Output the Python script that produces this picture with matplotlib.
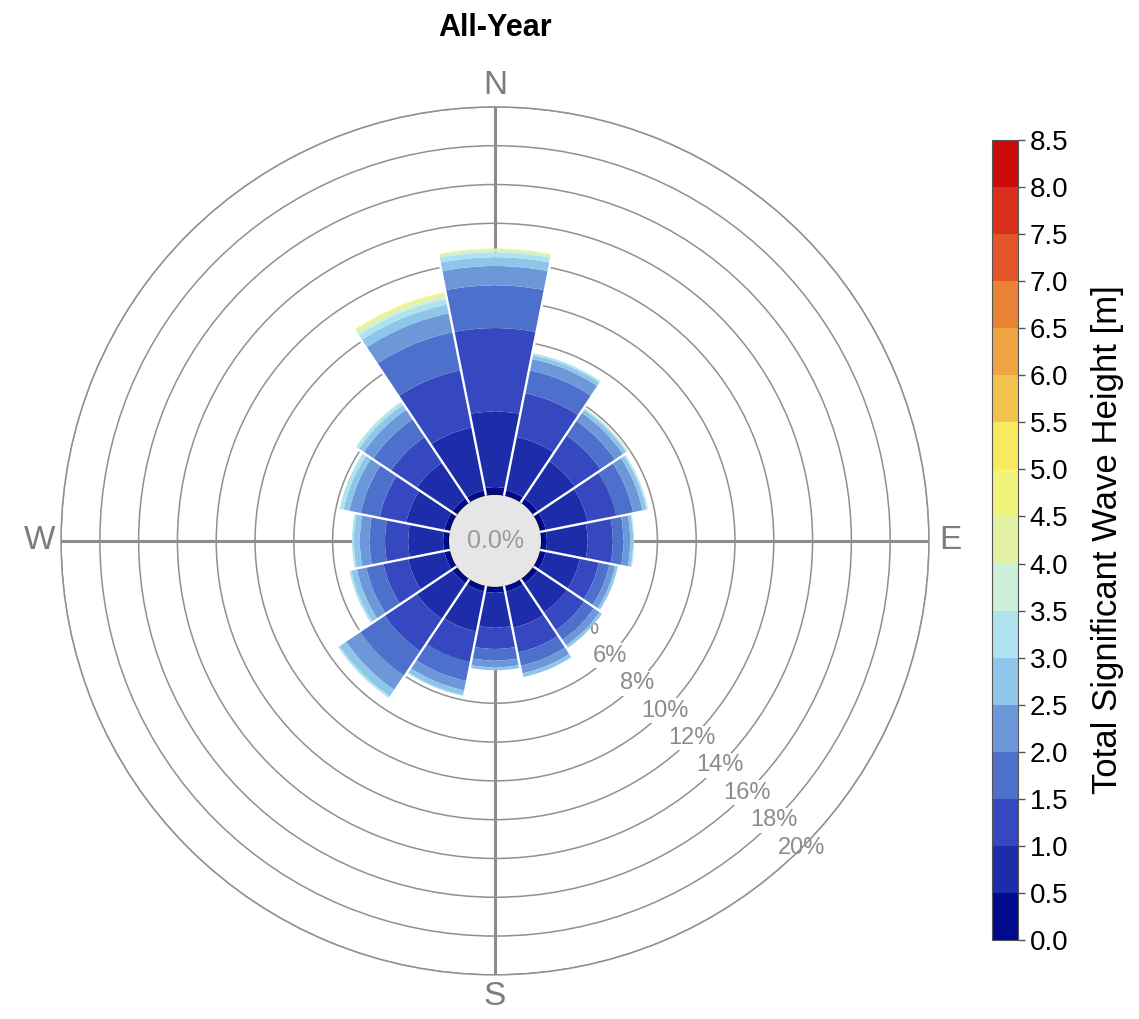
import numpy as np
import matplotlib
matplotlib.use('Agg')
import matplotlib.pyplot as plt
from matplotlib.colors import ListedColormap, BoundaryNorm
from matplotlib.cm import ScalarMappable
from matplotlib.patches import Circle

plt.rcParams['font.family'] = ['Liberation Sans', 'DejaVu Sans']

# 16 direction sectors, clockwise from north
directions = ['N', 'NNE', 'NE', 'ENE', 'E', 'ESE', 'SE', 'SSE',
              'S', 'SSW', 'SW', 'WSW', 'W', 'WNW', 'NW', 'NNW']
dir_deg = [0, 22.5, 45, 67.5, 90, 112.5, 135, 157.5,
           180, 202.5, 225, 247.5, 270, 292.5, 315, 337.5]

# wave height bin edges [m]
height_edges = [0.0, 0.5, 1.0, 1.5, 2.0, 2.5, 3.0, 3.5, 4.0, 4.5, 5.0,
                5.5, 6.0, 6.5, 7.0, 7.5, 8.0, 8.5]
bin_colors = ['#020a8c', '#1d2ca8', '#3648bf', '#4d70cd', '#6c98d9', '#8ec6ea',
              '#ade2ee', '#cdeed8', '#e3f2a2', '#f0f47a', '#f7ea5e', '#f3c24e',
              '#eea442', '#ea8236', '#e2562a', '#d9301e', '#cc0a0a']

# frequency [%] per height bin (0-0.5, 0.5-1.0, ...), bins not listed are 0
freq_N   = [0.4, 3.9, 4.3, 2.2, 1.0, 0.45, 0.25, 0.12, 0.06, 0.02]
freq_NNE = [0.3, 2.8, 2.3, 1.2, 0.6, 0.2, 0.1]
freq_NE  = [0.3, 2.3, 1.6, 0.9, 0.5, 0.2, 0.07, 0.03]
freq_ENE = [0.3, 2.2, 1.5, 0.9, 0.5, 0.2, 0.07, 0.03]
freq_E   = [0.3, 2.1, 1.3, 0.55, 0.35, 0.15, 0.05]
freq_ESE = [0.3, 1.8, 1.0, 0.55, 0.3, 0.15]
freq_SE  = [0.3, 1.8, 1.1, 0.6, 0.35, 0.15]
freq_SSE = [0.3, 1.9, 1.3, 0.7, 0.4, 0.2]
freq_S   = [0.3, 1.8, 1.1, 0.6, 0.35, 0.15]
freq_SSW = [0.3, 2.1, 1.6, 1.0, 0.5, 0.25, 0.05]
freq_SW  = [0.3, 2.2, 2.0, 1.5, 0.9, 0.4, 0.1]
freq_WSW = [0.3, 1.9, 1.3, 0.9, 0.5, 0.3, 0.1]
freq_W   = [0.3, 1.8, 1.2, 0.8, 0.5, 0.3, 0.1]
freq_WNW = [0.3, 2.0, 1.4, 1.0, 0.6, 0.3, 0.2]
freq_NW  = [0.3, 2.2, 1.6, 1.1, 0.6, 0.3, 0.15, 0.05]
freq_NNW = [0.3, 3.3, 3.0, 2.0, 1.0, 0.45, 0.3, 0.15, 0.12, 0.08]

ring_pct = [2, 4, 6, 8, 10, 12, 14, 16, 18, 20]

rows = [freq_N, freq_NNE, freq_NE, freq_ENE, freq_E, freq_ESE, freq_SE, freq_SSE,
        freq_S, freq_SSW, freq_SW, freq_WSW, freq_W, freq_WNW, freq_NW, freq_NNW]
nbins = len(height_edges) - 1
table = np.zeros((len(rows), nbins))
for i, r in enumerate(rows):
    table[i, :len(r)] = r
totals = table.sum(axis=1)

fig = plt.figure(figsize=(11.39, 10.19), dpi=100)
ax = fig.add_axes([0.0536, 0.0432, 0.762, 0.852], projection='polar')
ax.set_theta_zero_location('N')
ax.set_theta_direction(-1)
r_origin = -2.37
ax.set_ylim(0, 20)
ax.set_rorigin(r_origin)
ax.set_axisbelow(True)

theta = np.deg2rad(dir_deg)
width = np.deg2rad(22.5)
bottom = np.zeros(len(rows))
for j in range(nbins):
    h = table[:, j]
    if h.sum() == 0:
        continue
    ax.bar(theta, h, width=width, bottom=bottom, color=bin_colors[j],
           edgecolor='none', linewidth=0, zorder=2, align='center')
    bottom += h

# white separators between sectors
for k in range(len(rows)):
    a = np.deg2rad(dir_deg[k] + 11.25)
    rmax = max(totals[k], totals[(k + 1) % len(rows)])
    ax.plot([a, a], [0, rmax + 0.05], color='white', lw=1.7, zorder=3,
            solid_capstyle='butt')

# grid
ax.set_thetagrids([0, 90, 180, 270], ['N', 'E', 'S', 'W'])
ax.xaxis.grid(True, color='#8c8c8c', lw=2.2)
ax.yaxis.grid(True, color='#909090', lw=1.1)
ax.set_yticks(ring_pct)
ax.set_yticklabels([])
ax.tick_params(axis='x', colors='#7c7c7c', labelsize=24, pad=5)
ax.spines['polar'].set_color('#909090')
ax.spines['polar'].set_linewidth(1.1)

for v in ring_pct:
    ax.text(np.deg2rad(135), v, f'{v}%', ha='center', va='center', fontsize=17,
            color='#8c8c8c', zorder=1.5,
            bbox=dict(facecolor='white', edgecolor='none', pad=1))

# calm hole in the centre
hole_r = 0.5 * (-r_origin) / (20 - r_origin)
ax.add_patch(Circle((0.5, 0.5), hole_r, transform=ax.transAxes,
                    facecolor='#e6e6e6', edgecolor='none', zorder=4, clip_on=False))
ax.text(0.5, 0.5, '0.0%', transform=ax.transAxes, ha='center', va='center',
        fontsize=18, color='#9a9a9a', zorder=5)

fig.text(0.4346, 0.9725, 'All-Year', ha='center', va='center',
         fontsize=22, fontweight='bold')

# colorbar
cmap = ListedColormap(bin_colors)
norm = BoundaryNorm(height_edges, cmap.N)
cax = fig.add_axes([0.8709, 0.0775, 0.0228, 0.7851])
cb = fig.colorbar(ScalarMappable(norm=norm, cmap=cmap), cax=cax,
                  ticks=height_edges)
cb.ax.set_yticklabels([f'{v:.1f}' for v in height_edges])
cb.ax.tick_params(labelsize=20, length=5, width=1, color='#555555')
cb.outline.set_edgecolor('#555555')
cb.outline.set_linewidth(0.8)
cb.set_label('Total Significant Wave Height [m]', fontsize=25, labelpad=16)

fig.savefig('out.png', dpi=100)
